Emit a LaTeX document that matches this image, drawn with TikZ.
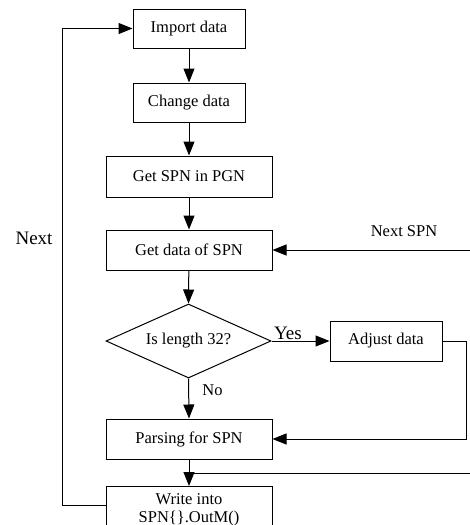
\documentclass[tikz,border=0pt]{standalone}
\usepackage{fontspec}
\setmainfont{Liberation Serif}
\usetikzlibrary{shapes.geometric,arrows.meta}
\begin{document}
\begin{tikzpicture}[x=1pt,y=-1pt,
  every node/.style={font=\fontsize{16.5}{18}\selectfont},
  box/.style={draw,line width=1pt,inner sep=0pt,minimum width=#1},
  box/.default=112pt,
  decision/.style={draw,line width=1pt,diamond,inner sep=0pt,minimum width=165pt,minimum height=74pt,shape aspect=2.23},
  flow/.style={line width=1pt,-{Triangle[length=14pt,width=11pt]}},
  plain/.style={line width=1pt},
  biglabel/.style={font=\fontsize{19}{21}\selectfont}]
\useasboundingbox (0,0) rectangle (470,525);

% main column
\node[box,minimum height=39pt] (import) at (189,28.5) {Import data};
\node[box,minimum height=39pt] (change) at (189,102.5) {Change data};
\node[box=166pt,minimum height=41pt] (getspn) at (189,176.5) {Get SPN in PGN};
\node[box=166pt,minimum height=40pt] (getdata) at (189,250) {Get data of SPN};
\node[decision] (len) at (188.5,341) {Is length 32?};
\node[box,minimum height=40pt] (adjust) at (386,341) {Adjust data};
\node[box=166pt,minimum height=40pt] (parse) at (189,439) {Parsing for SPN};
\node[box=166pt,minimum height=46pt,anchor=north,align=center] (write) at (189,486) {Write into\\SPN\{\}.OutM()};

% free ends and corners
\coordinate (nextin) at (470,250);
\coordinate (loopin) at (470,473);
\coordinate (adjcorner) at (466,341);
\coordinate (writeout) at (106,505);
\coordinate (loopleft) at (62,505);

% labels
\node (yes) [biglabel] at (288,333) {Yes};
\node (no) at (212.5,390.5) {No};
\node (nextspn) at (404,231) {Next SPN};
\node (next) [biglabel] at (34,238) {Next};

% connectors
\draw[flow] (import) -- (change);
\draw[flow] (change) -- (getspn);
\draw[flow] (getspn) -- (getdata);
\draw[flow] (getdata) -- (len.north);
\draw[flow] (len.east) -- (adjust.west);
\draw[flow] (adjust.east) -- (adjcorner) |- (parse.east);
\draw[flow] (len.south) -- (parse.north);
\draw[flow] (parse.south) -- (write.north);
\draw[plain] (loopin) -- (loopin -| parse.south);
\draw[flow] (nextin) -- (getdata.east);
\draw[flow] (writeout) -- (loopleft) |- (import.west);
\end{tikzpicture}
\end{document}
